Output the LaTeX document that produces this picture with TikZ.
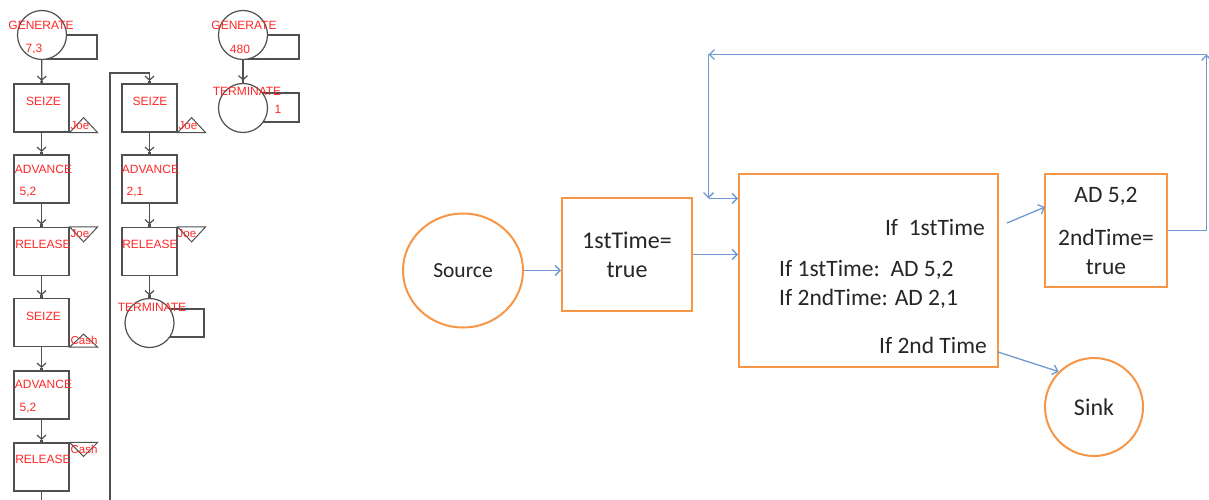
\documentclass[tikz,border=0pt]{standalone}
\usepackage{fontspec}
\setmainfont{Carlito}
\newfontfamily\gpssfont{Liberation Sans}
\usetikzlibrary{arrows.meta,shapes.geometric,calc}
\definecolor{orng}{HTML}{F79646}
\definecolor{blu}{HTML}{7099D1}
\definecolor{txt}{HTML}{262626}
\definecolor{gred}{HTML}{FF2828}
\definecolor{gline}{HTML}{505050}
\tikzset{
  gbox/.style={draw=gline, line width=1.2pt, fill=white, minimum width=55pt, minimum height=48pt, inner sep=0pt},
  gcirc/.style={circle, draw=gline, line width=1.2pt, fill=white, minimum size=49pt, inner sep=0pt},
  gtab/.style={draw=gline, line width=1.2pt},
  gtri/.style={draw=gline, line width=1pt},
  garrow/.style={draw=gline, line width=1.2pt, -{Straight Barb[length=4pt,width=9pt]Square[length=2.5pt,width=2.5pt]}},
  gplain/.style={draw=gline, line width=1.2pt},
  gtxt/.style={text=gred, font=\gpssfont\fontsize{12}{12}\selectfont, inner sep=0pt},
  gsmall/.style={text=gred, font=\gpssfont\fontsize{11.5}{11.5}\selectfont, inner sep=0pt},
  obox/.style={draw=orng, line width=2pt, fill=white, inner sep=0pt},
  barrow/.style={draw=blu, line width=1.3pt, -{Straight Barb[length=5pt,width=10pt]}},
  rtxt/.style={text=txt, font=\fontsize{23.5}{28}\selectfont, inner sep=0pt},
}
\begin{document}
\begin{tikzpicture}[x=1pt,y=-1pt]
\useasboundingbox (0,0) rectangle (1209,500);
% ---------- left GPSS block diagram ----------
% column 1
\draw[gtab] (42,35) rectangle (97,59);
\node[gcirc] (gen1) at (42,35) {};
\node[gbox] (seize1) at (41.5,108) {};
\node[gbox] (adv1) at (41.5,179) {};
\node[gbox] (rel1) at (41.5,251.5) {};
\node[gbox] (seize2) at (41.5,322.5) {};
\node[gbox] (adv2) at (41.5,395) {};
\node[gbox] (rel2) at (41.5,467) {};
\coordinate (bot1) at (41.5,500);
\draw[garrow] (gen1) -- (seize1);
\draw[garrow] (seize1) -- (adv1);
\draw[garrow] (adv1) -- (rel1);
\draw[garrow] (rel1) -- (seize2);
\draw[garrow] (seize2) -- (adv2);
\draw[garrow] (adv2) -- (rel2);
\draw[gplain] (rel2) -- (bot1);
% column 2
\node[gbox] (seize3) at (149.5,108) {};
\node[gbox] (adv3) at (149.5,179) {};
\node[gbox] (rel3) at (149.5,251.5) {};
\draw[gtab] (149.5,309) rectangle (204,337);
\node[gcirc] (term1) at (149.5,323) {};
\coordinate (lb) at (110,500);
\coordinate (lt) at (110,73);
\draw[gplain] (lb) -- (lt) -- (lt -| seize3) -- ++(0,2);
\draw[garrow] (149.5,73) -- (seize3);
\draw[garrow] (seize3) -- (adv3);
\draw[garrow] (adv3) -- (rel3);
\draw[garrow] (rel3) -- (term1);
% column 3
\draw[gtab] (243,35) rectangle (299,59);
\node[gcirc] (gen2) at (243,35) {};
\draw[gtab] (243,93) rectangle (299,122);
\node[gcirc] (term2) at (243,108) {};
\draw[garrow] (gen2) -- (term2);
% facility triangles
\draw[gtri] (seize1.south east) -- ++(28,0) -- ++(-14,-15) -- cycle;
\draw[gtri] (seize3.south east) -- ++(28,0) -- ++(-14,-15) -- cycle;
\draw[gtri] (seize2.south east) -- ++(28,0) -- ++(-14,-13) -- cycle;
\draw[gtri] (rel1.north east) -- ++(28,0) -- ++(-14,15) -- cycle;
\draw[gtri] (rel3.north east) -- ++(28,0) -- ++(-14,15) -- cycle;
\draw[gtri] (rel2.north east) -- ++(28,0) -- ++(-14,14) -- cycle;
% red texts
\node[gtxt] (tg1) at (41,25) {GENERATE};
\node[gtxt] (tg1a) at (34,49) {7,3};
\node[gtxt] (ts1) at (43.5,101) {SEIZE};
\node[gtxt] (ta1) at (43.5,169) {ADVANCE};
\node[gtxt] (ta1a) at (28,192) {5,2};
\node[gtxt] (tr1) at (43,244) {RELEASE};
\node[gtxt] (ts2) at (43.5,316) {SEIZE};
\node[gtxt] (ta2) at (43.5,384) {ADVANCE};
\node[gtxt] (ta2a) at (28,408) {5,2};
\node[gtxt] (tr2) at (43,459) {RELEASE};
\node[gtxt] (ts3) at (150,101) {SEIZE};
\node[gtxt] (ta3) at (150.5,169) {ADVANCE};
\node[gtxt] (ta3a) at (135,192) {2,1};
\node[gtxt] (tr3) at (150,244) {RELEASE};
\node[gtxt] (tt1) at (152,307) {TERMINATE};
\node[gtxt] (tg2) at (244,25) {GENERATE};
\node[gtxt] (tg2a) at (240,49) {480};
\node[gtxt] (tt2) at (247,91) {TERMINATE};
\node[gtxt] (tt2a) at (278,109) {1};
\node[gsmall] (j1) at (80,126) {Joe};
\node[gsmall] (j2) at (80,234) {Joe};
\node[gsmall] (j3) at (188,126) {Joe};
\node[gsmall] (j4) at (187,234) {Joe};
\node[gsmall] (c1) at (84,340) {Cash};
\node[gsmall] (c2) at (84,449) {Cash};
% ---------- right flow diagram ----------
\node[ellipse, draw=orng, line width=2pt, minimum width=120pt, minimum height=114pt, inner sep=0pt, text=txt, font=\fontsize{21.5}{24}\selectfont] (source) at (463,270.5) {Source};
\node[obox, minimum width=130pt, minimum height=113pt, align=center, text=txt, font=\fontsize{24}{29}\selectfont] (init) at (627,254.5) {1stTime=\\true};
\node[obox, minimum width=259pt, minimum height=193pt] (decide) at (868.5,270.5) {};
\node[rtxt, anchor=east] (d1) at (985,228) {If\ \ 1stTime};
\node[rtxt, anchor=west] (d2) at (779,270) {If 1stTime:\ \ AD 5,2};
\node[rtxt, anchor=west] (d3) at (779,299) {If 2ndTime: AD 2,1};
\node[rtxt, anchor=east] (d4) at (987,345) {If 2nd Time};
\node[obox, minimum width=122pt, minimum height=113pt] (adbox) at (1106,230.5) {};
\node[rtxt] (a1) at (1106,196) {AD 5,2};
\node[rtxt] (a2) at (1106,237) {2ndTime=};
\node[rtxt] (a3) at (1106,267) {true};
\node[circle, draw=orng, line width=2pt, minimum size=98pt, inner sep=0pt, text=txt, font=\fontsize{24}{28}\selectfont] (sink) at (1094,407) {Sink};
% connectors
\draw[barrow] (source.east) -- (source.east -| init.west);
\draw[barrow] (init.east) -- (init.east -| decide.west);
\coordinate (s1) at (1007,223);
\coordinate (e1) at (1045,207);
\draw[barrow] (s1) -- (e1);
\coordinate (s2) at (998,352);
\draw[barrow] (s2) -- (sink.135);
\coordinate (l1) at (1206.5,54.5);
\coordinate (l2) at (708.5,54.5);
\coordinate (l3) at (708.5,198.5);
\draw[barrow] (adbox.east) -- (adbox.east -| l1) -- (l1);
\draw[barrow] (l1) -- (l2);
\draw[barrow] (l2) -- (l3);
\draw[barrow] (l3) -- (l3 -| decide.west);
\end{tikzpicture}
\end{document}
